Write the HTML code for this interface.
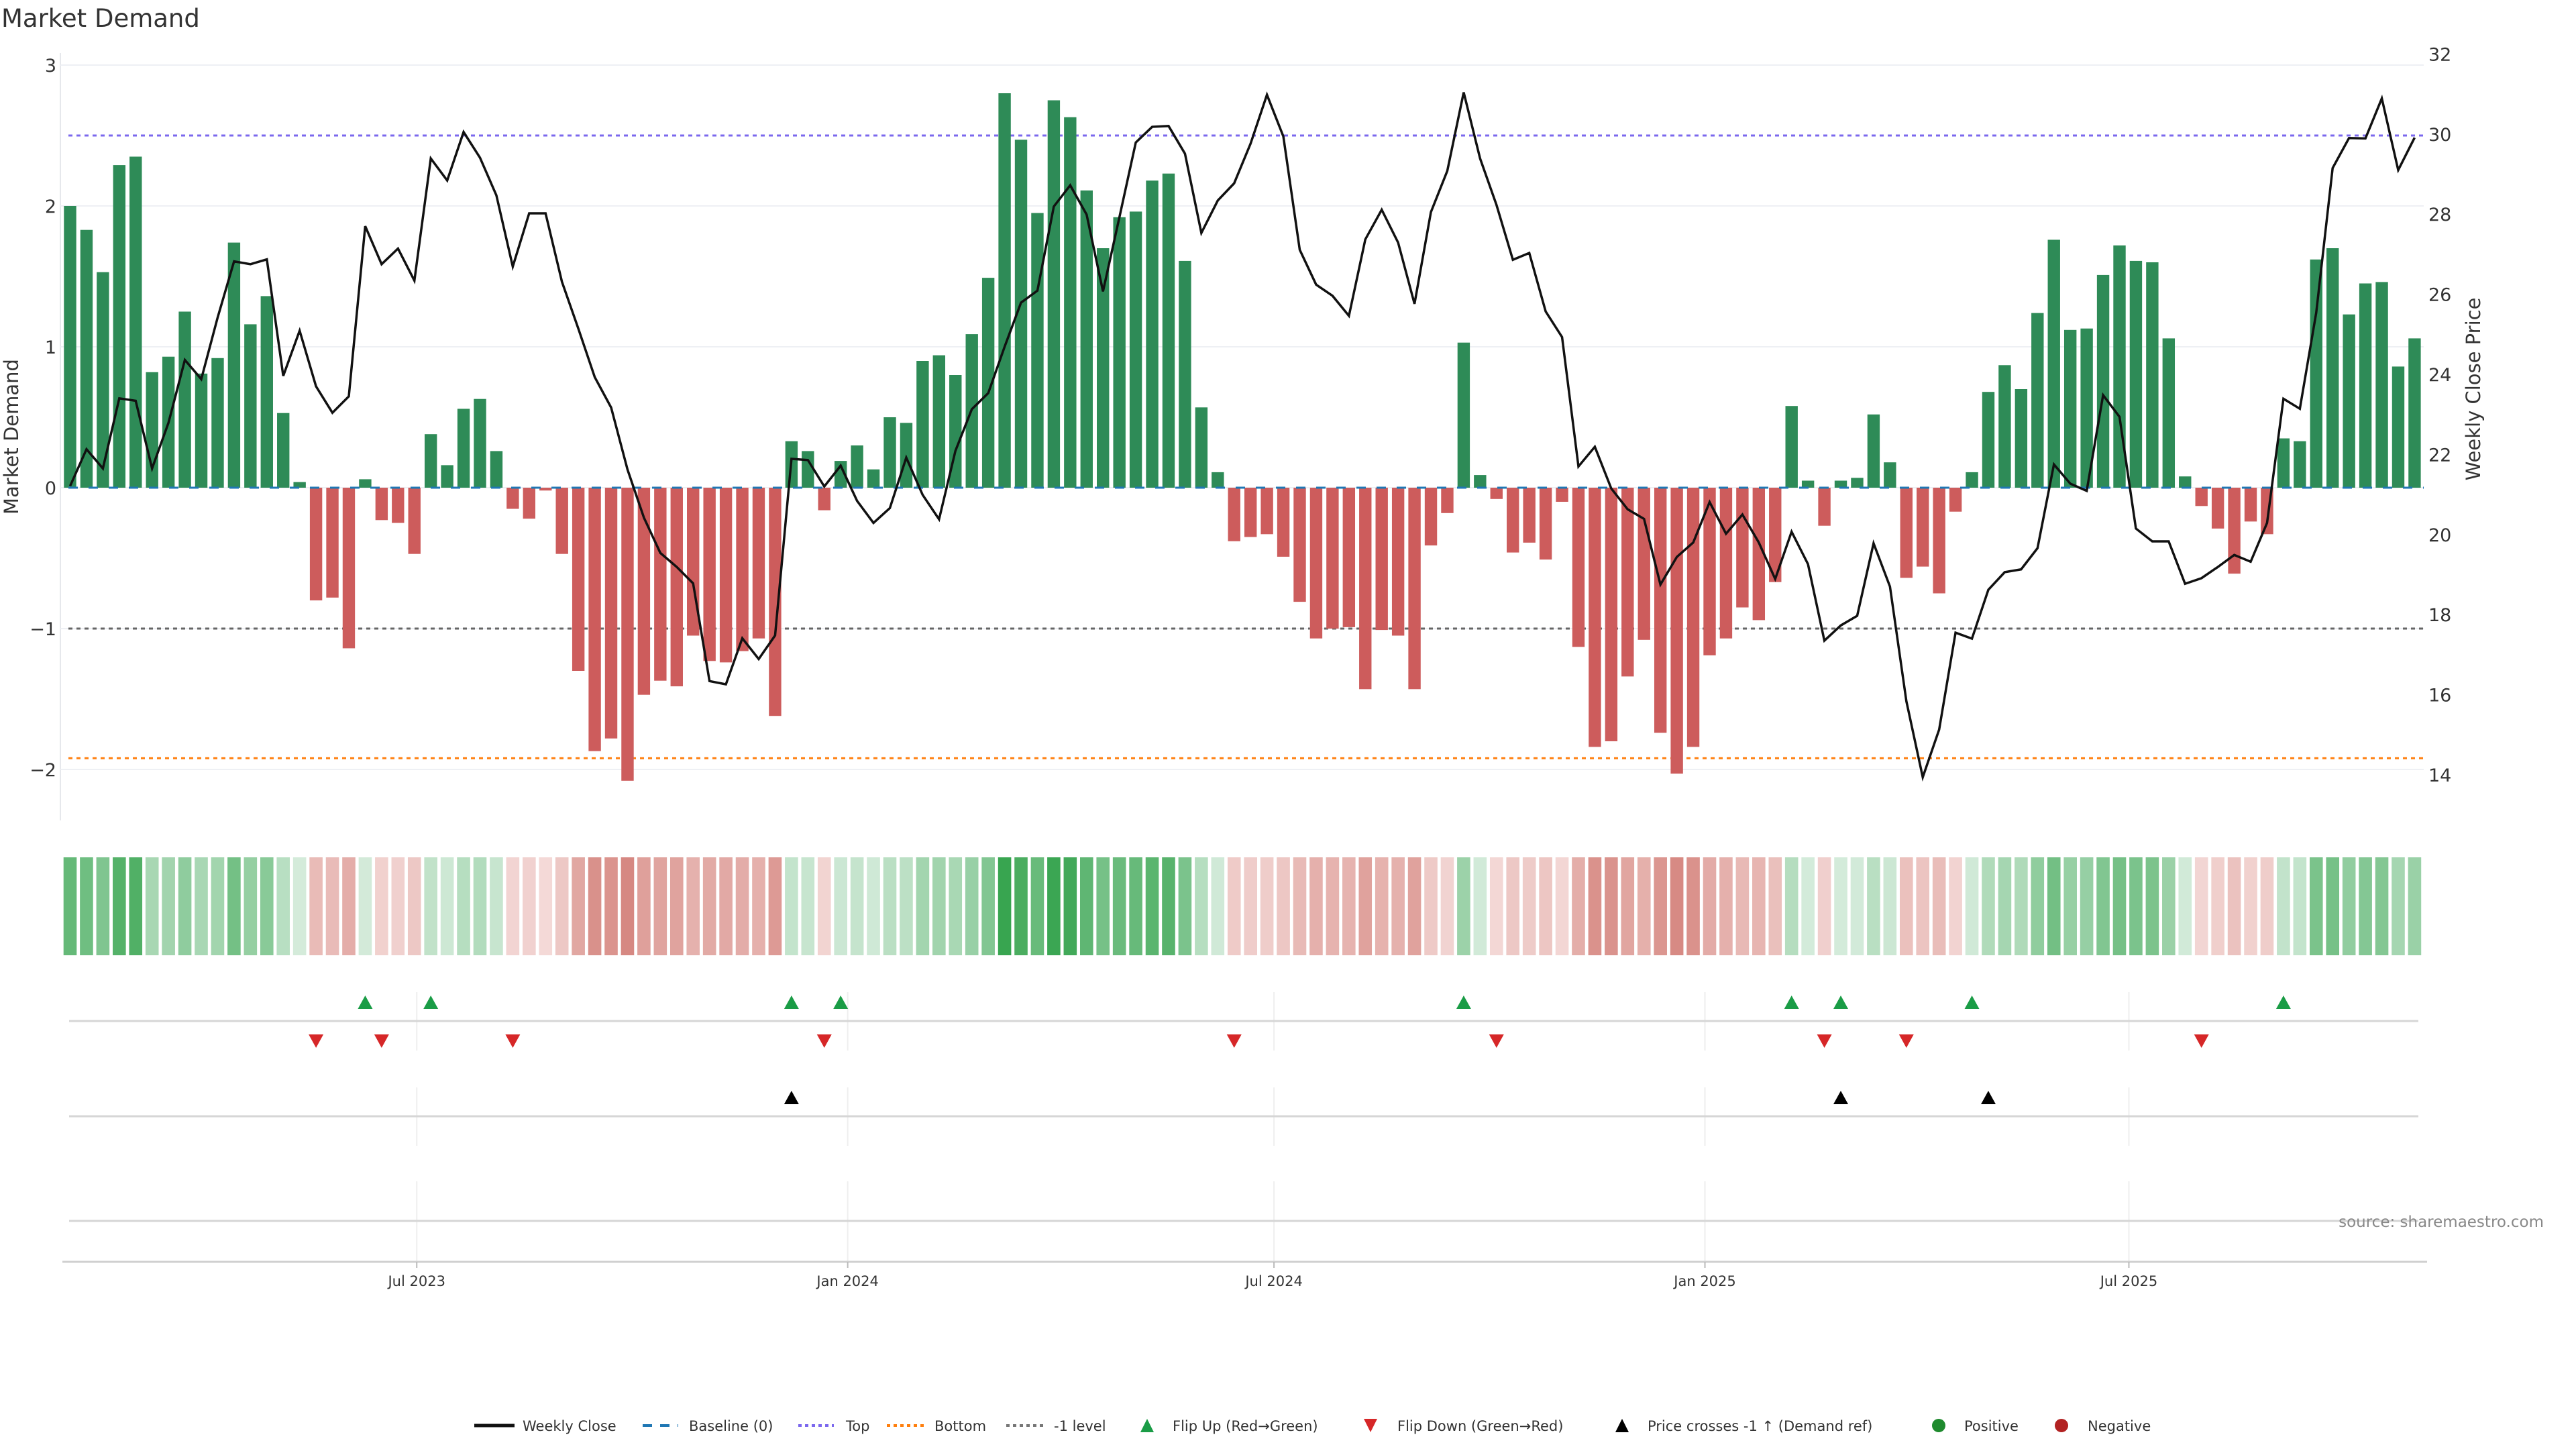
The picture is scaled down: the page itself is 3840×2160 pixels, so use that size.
<!DOCTYPE html>
<html><head><meta charset="utf-8"><style>
html,body{margin:0;padding:0;background:#fff;}
svg{display:block;font-family:"DejaVu Sans","Liberation Sans",sans-serif;}
</style></head><body>
<svg id="chart" width="3840" height="2160" viewBox="0 0 3840 2160" xmlns="http://www.w3.org/2000/svg">
<rect width="3840" height="2160" fill="#fff"/>
<text x="2" y="40" font-size="37" fill="#333">Market Demand</text>
<g id="main"></g>
</svg>
<script>
const demand = [2.0,1.83,1.53,2.29,2.35,0.82,0.93,1.25,0.81,0.92,1.74,1.16,1.36,0.53,0.04,-0.80,-0.78,-1.14,0.06,-0.23,-0.25,-0.47,0.38,0.16,0.56,0.63,0.26,-0.15,-0.22,-0.02,-0.47,-1.30,-1.87,-1.78,-2.08,-1.47,-1.37,-1.41,-1.05,-1.23,-1.24,-1.16,-1.07,-1.62,
0.33,0.26,-0.16,0.19,0.30,0.13,0.50,0.46,0.90,0.94,0.80,1.09,1.49,2.80,2.47,1.95,2.75,2.63,2.11,1.70,1.92,1.96,2.18,2.23,1.61,0.57,0.11,-0.38,-0.35,-0.33,-0.49,-0.81,-1.07,-1.0,
-0.99,-1.43,-1.01,-1.05,-1.43,-0.41,-0.18,1.03,0.09,-0.08,-0.46,-0.39,-0.51,-0.10,-1.13,-1.84,-1.80,-1.34,-1.08,-1.74,-2.03,-1.84,-1.19,-1.07,-0.85,-0.94,-0.67,0.58,0.05,-0.27,0.05,0.07,0.52,0.18,
-0.64,-0.56,-0.75,-0.17,0.11,0.68,0.87,0.70,1.24,1.76,1.12,1.13,1.51,1.72,1.61,1.60,1.06,0.08,-0.13,-0.29,-0.61,-0.24,-0.33,0.35,0.33,1.62,1.70,1.23,1.45,1.46,0.86,1.06];
const price = [21.21,22.13,21.65,23.40,23.34,21.65,22.79,24.36,23.88,25.42,26.82,26.75,26.87,23.96,25.09,23.70,23.04,23.45,27.70,26.75,27.14,26.34,29.39,28.84,30.05,29.41,28.47,26.69,28.02,28.02,26.31,25.14,23.93,23.17,21.62,20.42,19.54,19.19,18.78,16.34,16.26,17.41,16.89,17.48,
21.89,21.86,21.2,21.72,20.84,20.29,20.66,21.92,20.99,20.38,22.09,23.13,23.53,24.69,25.79,26.09,28.19,28.72,27.99,26.07,27.92,29.79,30.18,30.2,29.51,27.53,28.34,28.77,29.76,30.98,29.94,27.11,26.24,25.96,
25.46,27.37,28.11,27.29,25.76,28.05,29.08,31.04,29.39,28.23,26.86,27.03,25.57,24.93,21.70,22.19,21.15,20.63,20.39,18.75,19.44,19.80,20.81,20.02,20.50,19.80,18.89,20.07,19.26,17.35,17.73,17.97,19.78,18.70,
15.84,13.94,15.13,17.55,17.40,18.62,19.06,19.13,19.66,21.75,21.27,21.09,23.48,22.94,20.15,19.83,19.83,18.77,18.91,19.19,19.49,19.32,20.29,23.39,23.14,25.54,29.15,29.90,29.89,30.89,29.10,29.91];
const crossIdx = [44,108,117];
const leftTicks = [3,2,1,0,-1,-2];
const leftTickLabels = ["3","2","1","0","\u22121","\u22122"];
const rightTicks = [14,16,18,20,22,24,26,28,30,32];
const dateTicks = ["2023-07-01","2024-01-01","2024-07-01","2025-01-01","2025-07-01"];
const dateTickLabels = ["Jul 2023","Jan 2024","Jul 2024","Jan 2025","Jul 2025"];
const startDate = "2023-02-03";
const topLevel = 2.5, bottomLevel = -1.92, minusOne = -1;

const NS="http://www.w3.org/2000/svg";
const g=document.getElementById('main');
function el(tag,attrs,parent,text){const e=document.createElementNS(NS,tag);for(const k in attrs)e.setAttribute(k,attrs[k]);if(text!==undefined)e.textContent=text;(parent||g).appendChild(e);return e;}
const X0=104.5, STEP=24.44, PL=90, PR=3613;
const xi=i=>X0+STEP*i;
const yD=v=>727-210*v;
const yP=p=>80.4+(32-p)*59.7;
const dayIdx=d=>(new Date(d)-new Date(startDate))/86400000/7;

let e;
e=el('line',{x1:PL,x2:PL,y1:79,y2:1223,stroke:'#e6e8ec','stroke-width':2});


leftTicks.forEach((t,k)=>{
  e=el('line',{x1:PL,x2:PR,y1:yD(t),y2:yD(t),stroke:'#eef0f4','stroke-width':2});
  
  
  e=el('text',{x:84,y:yD(t)+10,'font-size':27,'text-anchor':'end',fill:'#333'},g,leftTickLabels[k]);
  
  
});
rightTicks.forEach(t=>{
  e=el('text',{x:3620,y:yP(t)+10,'font-size':27,fill:'#333'},g,String(t));
  
  
});
e=el('text',{x:0,y:0,'font-size':29,fill:'#333','text-anchor':'middle',transform:'translate(27,651) rotate(-90)'},g,'Market Demand');


e=el('text',{x:0,y:0,'font-size':29,fill:'#333','text-anchor':'middle',transform:'translate(3697,580) rotate(-90)'},g,'Weekly Close Price');



function hline(v,color,dash,name){e=el('line',{x1:PL+12,x2:PR,y1:yD(v),y2:yD(v),stroke:color,'stroke-width':3,'stroke-dasharray':dash});
  
  }
hline(topLevel,'#7b68ee','6 6','top-line');
hline(minusOne,'#666','6 6','minus-one-line');
hline(bottomLevel,'#ff7f0e','6 6','bottom-line');

demand.forEach((v,i)=>{
  const y=v>=0?yD(v):yD(0);
  e=el('rect',{x:xi(i)-9.2,y:y,width:18.4,height:Math.abs(yD(v)-yD(0)),fill:v>=0?'#2e8b57':'#cd5c5c'});
  
  
});
hline(0,'#1f77b4','14 16','baseline-zero');

e=el('polyline',{points:price.map((p,i)=>xi(i)+','+yP(p)).join(' '),fill:'none',stroke:'#111','stroke-width':3.5,'stroke-linejoin':'miter'});



const maxAbs=Math.max(...demand.map(Math.abs));
function mix(a,b,t){return 'rgb('+a.map((c,k)=>Math.round(c+(b[k]-c)*t)).join(',')+')';}
demand.forEach((v,i)=>{
  const t=Math.min(1,Math.abs(v)/maxAbs);
  const c=v>=0?mix([214,236,220],[56,165,80],t):mix([244,218,216],[204,108,100],t);
  e=el('rect',{x:xi(i)-9.8,y:1278,width:19.6,height:146,fill:c});
  
  
});

dateTicks.forEach(d=>{
  const x=xi(dayIdx(d));
  [[1479,1566],[1621,1708],[1761,1881]].forEach(r=>{
    e=el('line',{x1:x,x2:x,y1:r[0],y2:r[1],stroke:'#eeeeee','stroke-width':2});
    
    
  });
});
[1522,1664,1820].forEach(y=>{
  e=el('line',{x1:103,x2:3605,y1:y,y2:y,stroke:'#d6d6d6','stroke-width':3});
  
  
});
e=el('line',{x1:93,x2:3618,y1:1881,y2:1881,stroke:'#d0d0d0','stroke-width':3});


dateTicks.forEach((d,k)=>{
  const x=xi(dayIdx(d));
  e=el('line',{x1:x,x2:x,y1:1881,y2:1890,stroke:'#bbb','stroke-width':2});
  
  
  e=el('text',{x:x,y:1917,'font-size':21,'text-anchor':'middle',fill:'#333'},g,dateTickLabels[k]);
  
  
});

function tri(x,y,up,color,name){const h=10,w=11;
  const pts=up?[[x,y-h],[x-w,y+h],[x+w,y+h]]:[[x,y+h],[x-w,y-h],[x+w,y-h]];
  e=el('polygon',{points:pts.map(p=>p.join(',')).join(' '),fill:color});
  
  }
for(let i=1;i<demand.length;i++){
  if(demand[i-1]<0&&demand[i]>=0)tri(xi(i),1494,true,'#1a9c46','flip-up-marker');
  if(demand[i-1]>=0&&demand[i]<0)tri(xi(i),1552,false,'#d62728','flip-down-marker');
}
crossIdx.forEach(i=>tri(xi(i),1636,true,'#000','price-cross-marker'));

e=el('text',{x:3792,y:1829,'font-size':23,'text-anchor':'end',fill:'#888'},g,'source: sharemaestro.com');



const L=el('g',{});


const ly=2125;
function ltext(x,t){e=el('text',{x:x,y:ly+8,'font-size':21,fill:'#333'},L,t);
  
  }
function lline(x1,x2,c,dash,w){e=el('line',{x1:x1,x2:x2,y1:ly,y2:ly,stroke:c,'stroke-width':w,'stroke-dasharray':dash},L);
  
  }
lline(707,767,'#111','',5);ltext(779,'Weekly Close');
lline(958,1011,'#1f77b4','14 12',4);ltext(1027,'Baseline (0)');
lline(1190,1243,'#7b68ee','5 5',4);ltext(1261,'Top');
lline(1322,1377,'#ff7f0e','5 5',4);ltext(1393,'Bottom');
lline(1500,1555,'#777','5 5',4);ltext(1571,'-1 level');
function ltri(x,up,c){const h=10,w=10;const y=ly;const pts=up?[[x,y-h],[x-w,y+h],[x+w,y+h]]:[[x,y+h],[x-w,y-h],[x+w,y-h]];
  e=el('polygon',{points:pts.map(p=>p.join(',')).join(' '),fill:c},L);
  
  }
ltri(1710,true,'#1a9c46');ltext(1748,'Flip Up (Red\u2192Green)');
ltri(2043,false,'#d62728');ltext(2083,'Flip Down (Green\u2192Red)');
ltri(2418,true,'#000');ltext(2456,'Price crosses -1 \u2191 (Demand ref)');
e=el('circle',{cx:2890,cy:ly,r:10,fill:'#1e8a2e'},L);


ltext(2928,'Positive');
e=el('circle',{cx:3073,cy:ly,r:10,fill:'#b22222'},L);


ltext(3112,'Negative');
</script>
</body></html>
